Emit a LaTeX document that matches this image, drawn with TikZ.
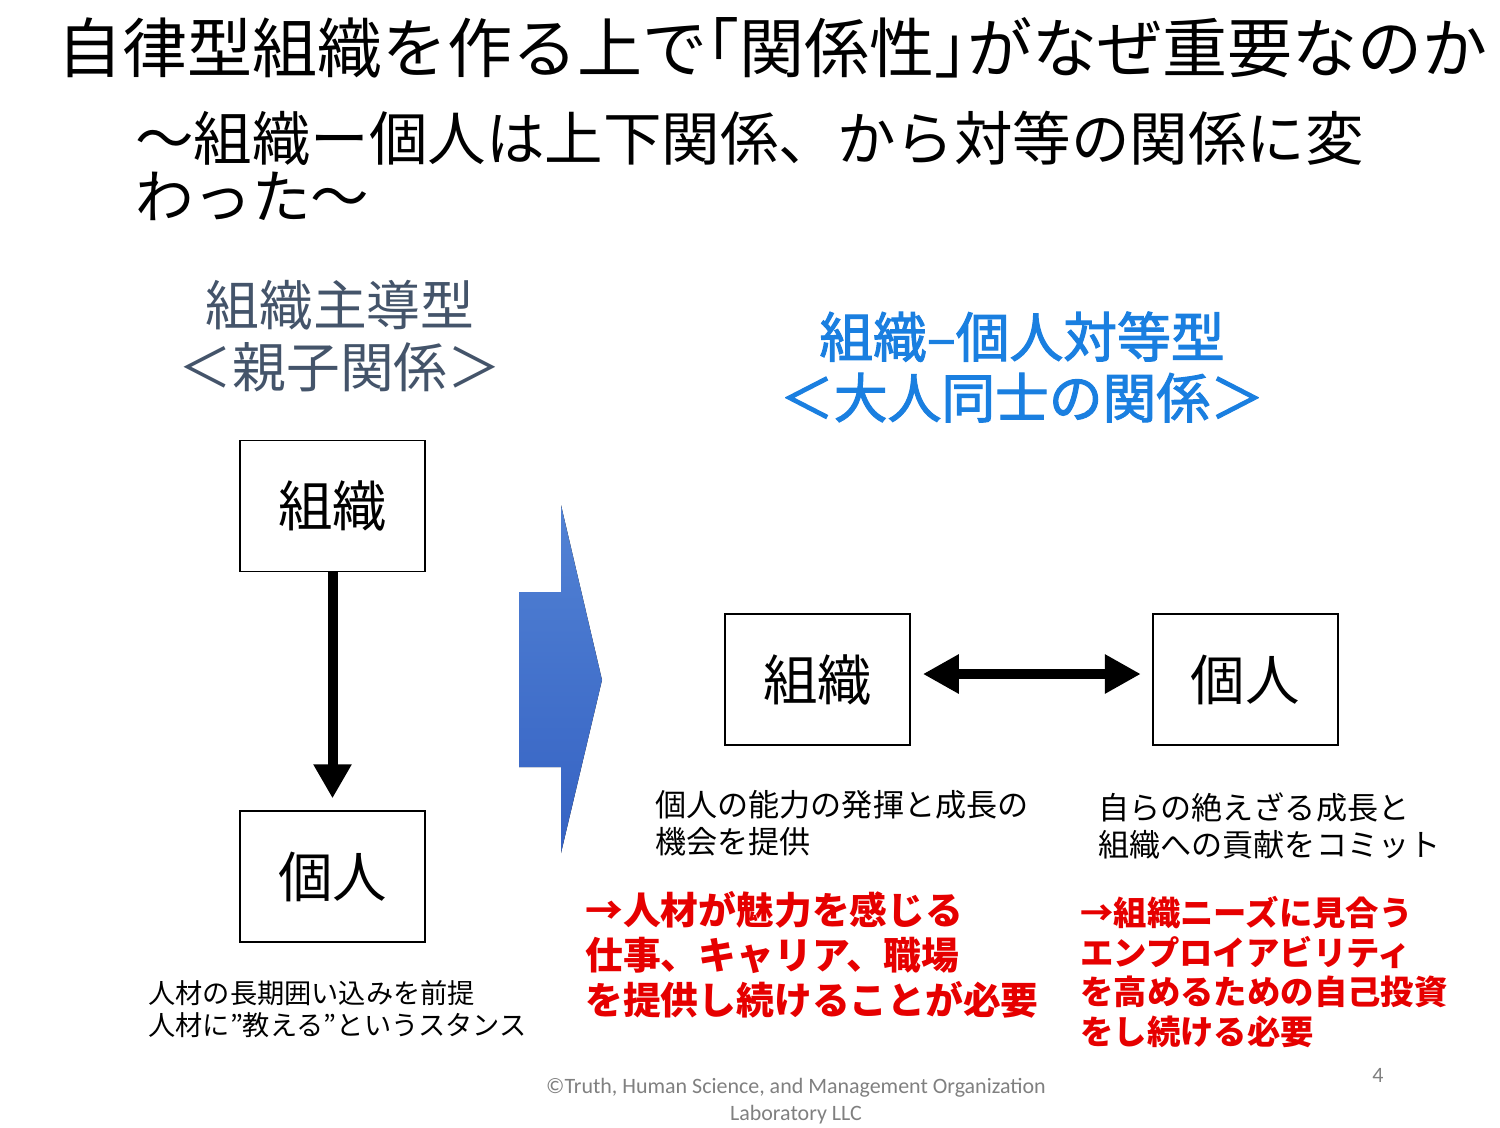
\documentclass[tikz,border=0pt]{standalone}
\usepackage{fontspec}
\setmainfont{Noto Sans CJK JP}
\newfontfamily\semifont[FakeBold=2]{Noto Sans CJK JP}
\newfontfamily\footfont{Carlito}
\usetikzlibrary{arrows.meta,positioning}
\definecolor{headgray}{HTML}{44546A}
\definecolor{headblue}{HTML}{1A7FE0}
\definecolor{msgred}{HTML}{E60000}
\definecolor{arrowtop}{HTML}{5282D4}
\definecolor{arrowbot}{HTML}{3562C3}
\definecolor{footgray}{HTML}{808080}
\newcommand{\fs}[2]{\fontsize{#1}{#2}\selectfont}
\newcommand{\lbr}{\makebox[0.5em][r]{「}}
\newcommand{\rbr}{\makebox[0.5em][l]{」}}

\begin{document}
\begin{tikzpicture}[
  x=0.02cm, y=-0.02cm,
  bx/.style={draw, line width=1pt, minimum width=3.7cm, minimum height=2.62cm, inner sep=0pt, font=\fs{31pt}{36pt}},
  txt/.style={anchor=west, align=left, inner sep=0pt},
  capt/.style={txt, font=\fs{17.7pt}{21pt}},
  msg/.style={txt, text=msgred, font=\bfseries\fs{21.5pt}{25.5pt}},
  thick arrow/.style={line width=0.2cm, -{Triangle[width=0.72cm, length=0.68cm]}},
  both arrow/.style={line width=0.2cm, {Triangle[width=0.74cm, length=0.72cm]}-{Triangle[width=0.74cm, length=0.72cm]}}
]
\useasboundingbox (0,0) rectangle (1500,1127);

% title
\node[txt, font=\fs{37pt}{40pt}] (title) at (57,48) {自律型組織を作る上で\lbr 関係性\rbr がなぜ重要なのか};
\node[txt, font=\fs{33.3pt}{32.9pt}] (sub) at (135,166) {～組織ー個人は上下関係、から対等の関係に変\\わった～};

% left: organisation led
\node[align=center, inner sep=0pt, text=headgray, font=\fs{30.6pt}{35pt}] (headL) at (340,336) {組織主導型\\＜親子関係＞};
\node[bx] (orgL) at (332.5,506) {組織};
\node[bx, below=4.76cm of orgL] (indL) {個人};
\draw[thick arrow, shorten >=0.24cm] (orgL) -- (indL);
\node[txt, font=\fs{15.5pt}{18pt}] (noteL) at (148,1009) {人材の長期囲い込みを前提\\人材に”教える”というスタンス};

% shift arrow
\fill[top color=arrowtop, bottom color=arrowbot] (561,505) -- (602,680) -- (561,853) -- (561,767) -- (519,767) -- (519,592) -- (561,592) -- cycle;

% right: equal partners
\node[align=center, inner sep=0pt, text=headblue, font=\semifont\fs{30.6pt}{34.6pt}] (headR) at (1022,367) {組織–個人対等型\\＜大人同士の関係＞};
\node[bx] (orgR) at (817.5,679.5) {組織};
\node[bx, right=4.82cm of orgR] (indR) {個人};
\draw[both arrow, shorten <=0.24cm, shorten >=0.22cm] ([yshift=0.11cm]orgR.east) -- ([yshift=0.11cm]indR.west);

\node[capt] (capO) at (655,823.5) {個人の能力の発揮と成長の\\機会を提供};
\node[capt] (capI) at (1098,825.5) {自らの絶えざる成長と\\組織への貢献をコミット};
\node[msg] (msgO) at (585,955) {→人材が魅力を感じる\\仕事、キャリア、職場\\を提供し続けることが必要};
\node[msg, font=\bfseries\fs{19pt}{22.7pt}] (msgI) at (1080,972) {→組織ニーズに見合う\\エンプロイアビリティ\\を高めるための自己投資\\をし続ける必要};

% footer
\node[align=center, inner sep=0pt, text=footgray, font=\footfont\fs{12.5pt}{15.3pt}] (foot) at (796,1101.5) {©Truth, Human Science, and Management Organization\\Laboratory LLC};
\node[inner sep=0pt, text=footgray, font=\footfont\fs{12.5pt}{15pt}] (page) at (1378,1075) {4};
\end{tikzpicture}
\end{document}
